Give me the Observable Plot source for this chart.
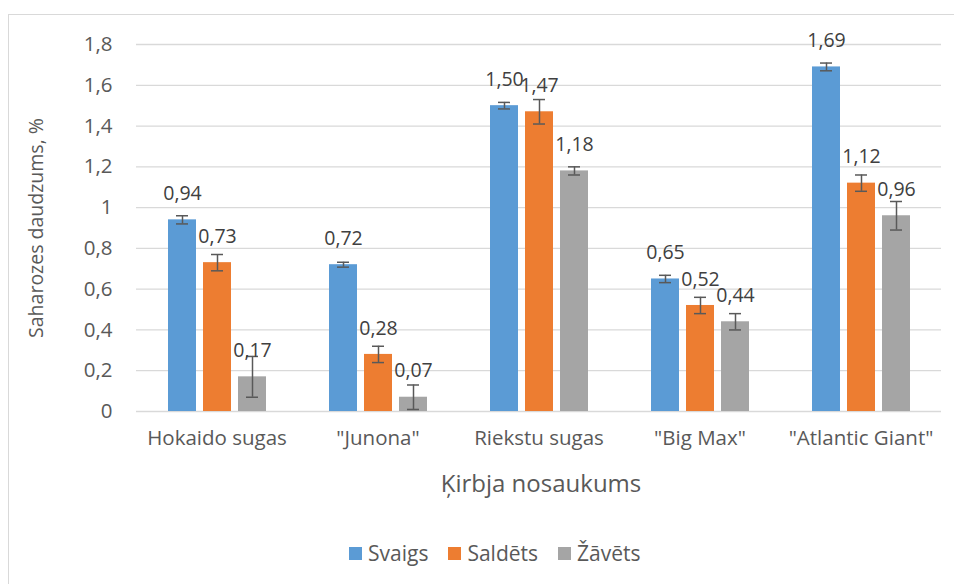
<!DOCTYPE html>
<html>
<head>
<meta charset="utf-8">
<script src="https://cdn.jsdelivr.net/npm/d3@7"></script>
<script src="https://cdn.jsdelivr.net/npm/@observablehq/plot@0.6"></script>
<style>
  html, body { margin: 0; padding: 0; background: #fff; }
  body { width: 954px; height: 584px; position: relative; overflow: hidden; font-family: "Open Sans", sans-serif; color: #595959; }
  #frame { position: absolute; left: 8px; top: 14px; width: 1000px; height: 620px; border: 1px solid #d9d9d9; box-sizing: border-box; }
  #chart { position: absolute; left: 0; top: 0; }
  #ytitle { position: absolute; left: 35px; top: 228px; transform: translate(-50%, -50%) rotate(-90deg); white-space: nowrap; font-size: 19.5px; }
  #xtitle { position: absolute; left: 541px; top: 482px; transform: translate(-50%, -50%); white-space: nowrap; font-size: 24px; }
  #legend { position: absolute; left: 349px; top: 539px; display: flex; gap: 20px; font-size: 21px; white-space: nowrap; }
  #legend span.item { display: inline-flex; align-items: center; gap: 6px; }
  #legend span.sw { width: 13px; height: 13px; display: inline-block; }
</style>
</head>
<body>
<div id="frame"></div>
<div id="chart"></div>
<div id="ytitle">Saharozes daudzums, %</div>
<div id="xtitle">Ķirbja nosaukums</div>
<div id="legend"></div>
<script>
const categories = ["Hokaido sugas", "\"Junona\"", "Riekstu sugas", "\"Big Max\"", "\"Atlantic Giant\""];
const seriesNames = ["Svaigs", "Saldēts", "Žāvēts"];
const seriesColors = ["#5b9bd5", "#ed7d31", "#a5a5a5"];
const svaigs = [0.94, 0.72, 1.50, 0.65, 1.69];
const saldets = [0.73, 0.28, 1.47, 0.52, 1.12];
const zavets = [0.17, 0.07, 1.18, 0.44, 0.96];
const errSvaigs = [0.02, 0.012, 0.016, 0.018, 0.019];
const errSaldets = [0.04, 0.04, 0.06, 0.04, 0.04];
const errZavets = [0.10, 0.06, 0.02, 0.04, 0.07];
const yTicks = [0, 0.2, 0.4, 0.6, 0.8, 1, 1.2, 1.4, 1.6, 1.8];

const values = [svaigs, saldets, zavets];
const errs = [errSvaigs, errSaldets, errZavets];
const data = [];
categories.forEach((c, i) => {
  seriesNames.forEach((s, j) => {
    data.push({cat: c, series: s, value: values[j][i], err: errs[j][i]});
  });
});

const fmtTick = d => String(d).replace(".", ",");
const fmtLabel = d => d.toFixed(2).replace(".", ",");

const plot = Plot.plot({
  width: 954,
  height: 510,
  marginTop: 44,
  marginBottom: 99,
  marginLeft: 136,
  marginRight: 13,
  style: {fontFamily: "Open Sans, sans-serif", fontSize: "20.5px", color: "#595959", background: "transparent"},
  fx: {domain: categories, padding: 0, label: null, axis: "bottom", tickSize: 0, tickPadding: 19},
  x: {domain: seriesNames, paddingInner: 0.21, paddingOuter: 0.853, axis: null},
  y: {domain: [0, 1.8], ticks: yTicks, tickFormat: fmtTick, tickSize: 0, tickPadding: 24, label: null, line: false},
  color: {domain: seriesNames, range: seriesColors},
  marks: [
    Plot.ruleY(yTicks, {y: d => d, stroke: "#d9d9d9", strokeWidth: 1.3}),
    Plot.barY(data, {fx: "cat", x: "series", y: "value", fill: "series"}),
    Plot.ruleX(data, {fx: "cat", x: "series", y1: d => d.value - d.err, y2: d => d.value + d.err, stroke: "#595959", strokeWidth: 1.5}),
    Plot.tickY(data, {fx: "cat", x: "series", y: d => d.value - d.err, stroke: "#595959", strokeWidth: 1.5, insetLeft: 8, insetRight: 8}),
    Plot.tickY(data, {fx: "cat", x: "series", y: d => d.value + d.err, stroke: "#595959", strokeWidth: 1.5, insetLeft: 8, insetRight: 8}),
    Plot.text(data, {fx: "cat", x: "series", y: "value", text: d => fmtLabel(d.value), dy: -26, fill: "#404040", fontSize: 19.5})
  ]
});
document.getElementById("chart").appendChild(plot);

const legend = document.getElementById("legend");
seriesNames.forEach((s, j) => {
  const item = document.createElement("span");
  item.className = "item";
  const sw = document.createElement("span");
  sw.className = "sw";
  sw.style.background = seriesColors[j];
  const t = document.createElement("span");
  t.textContent = s;
  item.appendChild(sw);
  item.appendChild(t);
  legend.appendChild(item);
});
</script>
</body>
</html>
